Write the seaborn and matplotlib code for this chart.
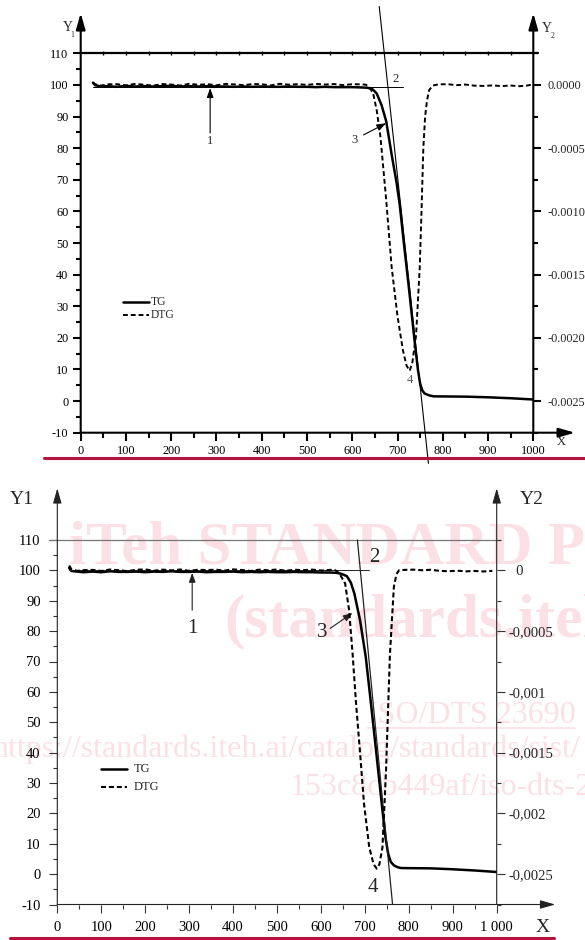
import numpy as np
import matplotlib
matplotlib.use("Agg")
import matplotlib.pyplot as plt
import seaborn as sns
from matplotlib.lines import Line2D
from matplotlib.patches import ArrowStyle
from matplotlib.ticker import MultipleLocator

# values read off the two TG / DTG plots
# X = temperature, Y1 = mass (%), Y2 = DTG

base_x = [80, 100, 120, 140, 160, 180, 200, 220, 240, 260, 280, 300, 320, 340,
          360, 380, 400, 420, 440, 460, 480, 500, 520, 540, 560, 580, 600, 620]

# upper plot
top_tg_x = [27, 32, 45, 60] + base_x + [
    634, 645, 654, 665, 675, 687, 698, 705, 714, 725, 737, 745, 750, 755,
    760, 770, 780, 850, 900, 950, 1000]
top_tg_y = [100.7, 99.9, 99.5, 99.6,
            99.4, 99.7, 99.5, 99.6, 99.5, 99.6, 99.7, 99.5, 99.6, 99.5, 99.6, 99.5, 99.5, 99.4,
            99.5, 99.4, 99.5, 99.4, 99.4, 99.5, 99.4, 99.4, 99.3, 99.4, 99.3, 99.3, 99.3, 99.2,
            99.1, 98.6, 97.3, 93.5, 88.5, 78, 69, 62, 50, 36, 20, 10, 5.5, 3.3,
            2.4, 1.8, 1.5, 1.4, 1.2, 0.9, 0.5]

top_dtg_x = [27, 32, 45, 60] + base_x + [
    630, 638, 646, 654, 662, 675, 687, 700, 712, 720, 727, 733, 741, 749,
    753, 757, 761, 765, 770, 778,
    790, 810, 830, 850, 870, 890, 910, 930, 950, 970, 985, 996]
top_dtg_y = [0.00002, 0.000005, -0.000005, 0.000005,
             0.000006, -0.000004, 0.000008, 0.000002, -0.000006, 0.000007, 0.000003,
             -0.000005, 0.000009, 0.000001, 0.000006, -0.000003, 0.000008, 0.000004,
             -0.000002, 0.000007, 0.000005, -0.000004, 0.000009, 0.000002, 0.000006,
             0.0, 0.000008, 0.000003, 0.000007, -0.000002, 0.000006, 0.000004,
             0.000002, -0.00002, -0.000065, -0.0002, -0.0004, -0.00091, -0.00144,
             -0.00183, -0.0021, -0.00222, -0.00226, -0.00219, -0.00198, -0.00145,
             -0.001, -0.0005, -0.00025, -0.000125, -0.00004, -0.000005,
             0.000004, 0.000006, -0.000002, 0.000003, -0.000006, -0.000008,
             -0.000004, -0.000009, -0.000005, -0.00001, -0.000006, 0.000002]

# lower plot
bot_tg_x = [27, 32, 45, 60] + base_x + [
    634, 646, 659, 668, 676, 689, 702, 714, 727, 740, 747, 753, 759, 766,
    774, 782, 850, 900, 950, 1000]
bot_tg_y = [100.8, 99.8, 99.6, 99.4,
            99.6, 99.4, 99.7, 99.5, 99.5, 99.6, 99.4, 99.6, 99.5, 99.7, 99.5, 99.5, 99.6, 99.4,
            99.5, 99.5, 99.6, 99.4, 99.5, 99.4, 99.5, 99.4, 99.4, 99.5, 99.4, 99.4, 99.3, 99.3,
            99.2, 98.9, 98.1, 96, 92.4, 83.6, 71.5, 56, 38.6, 21, 12, 6.7, 4, 2.9,
            2.3, 2.0, 1.9, 1.6, 1.2, 0.7]

bot_dtg_x = [27, 32, 45, 60] + base_x + [
    632, 642, 655, 664, 672, 680, 689, 698, 710, 720, 727, 733, 740, 748,
    757, 766, 772, 778,
    790, 810, 830, 850, 870, 890, 910, 930, 950, 970, 990]
bot_dtg_y = [0.00004, 0.00001, -0.000004, 0.000002,
             0.000004, -0.000005, 0.000007, 0.000001, -0.000006, 0.000005, 0.000008,
             -0.000003, 0.000006, 0.0, 0.000007, -0.000004, 0.000005, 0.000002,
             0.000006, -0.000002, 0.000008, 0.000003, -0.000005, 0.000006, 0.000001,
             0.000007, -0.000003, 0.000005, 0.000002, 0.000006, -0.000001, 0.000004,
             0.000003, -0.000025, -0.0001075, -0.000325, -0.000685, -0.0011, -0.0015,
             -0.00192, -0.00228, -0.00242, -0.002455, -0.00242, -0.00228, -0.00166,
             -0.00069, -0.000135, -0.00003, 0.000002,
             0.000004, 0.000006, 0.000001, 0.000005, -0.000004, -0.000007,
             -0.000003, -0.000008, -0.000005, -0.000009, -0.000004]

x_ticks = [0, 100, 200, 300, 400, 500, 600, 700, 800, 900, 1000]
top_x_labels = ['0', '100', '200', '300', '400', '500', '600', '700', '800', '900', '1000']
bot_x_labels = ['0', '100', '200', '300', '400', '500', '600', '700', '800', '900', '1 000']
y1_ticks = [-10, 0, 10, 20, 30, 40, 50, 60, 70, 80, 90, 100, 110]
y1_labels = ['-10', '0', '10', '20', '30', '40', '50', '60', '70', '80', '90', '100', '110']
y2_ticks = [-0.0025, -0.002, -0.0015, -0.001, -0.0005, 0.0]
top_y2_labels = ['-0.0025', '-0.0020', '-0.0015', '-0.0010', '-0.0005', '0.0000']
bot_y2_labels = ['-0,0025', '-0,002', '-0,0015', '-0,001', '-0,0005', '  0']

sns.set_style('ticks')
plt.rcParams['font.family'] = ['Liberation Serif', 'DejaVu Serif']

W, H = 585, 940
fig = plt.figure(figsize=(W / 100, H / 100), dpi=100)
fig.patch.set_facecolor('white')


def rect(x0, x1, ytop, ybot):
    return [x0 / W, 1 - ybot / H, (x1 - x0) / W, (ybot - ytop) / H]


def make_axes(r):
    ax = fig.add_axes(r)
    ax2 = ax.twinx()
    for a in (ax, ax2):
        a.set_facecolor('none')
        for s in a.spines.values():
            s.set_visible(False)
    return ax, ax2


def axis_arrow(ax, start, end, lw, color, ms):
    ax.annotate('', xy=end, xytext=start, xycoords='data', textcoords='data',
                arrowprops=dict(arrowstyle=ArrowStyle('-|>', head_length=0.7, head_width=0.2),
                                lw=lw, color=color, shrinkA=0, shrinkB=0,
                                mutation_scale=ms),
                annotation_clip=False)


def small_arrow(ax, start, end, color):
    ax.annotate('', xy=end, xytext=start,
                arrowprops=dict(arrowstyle=ArrowStyle('-|>', head_length=0.7, head_width=0.25),
                                lw=0.8, color=color, shrinkA=0, shrinkB=0, mutation_scale=8))


def setup_ticks(ax, ax2, xlabels, y2labels, size, lw, color, major, minor,
                padx, pady, pad2):
    ax.set_xlim(0, 1000)
    ax.set_ylim(-10, 110)
    ax2.set_ylim(-0.00275, 0.00025)
    ax.set_xticks(x_ticks, xlabels)
    ax.set_yticks(y1_ticks, y1_labels)
    ax2.set_yticks(y2_ticks, y2labels)
    ax.xaxis.set_minor_locator(MultipleLocator(50))
    ax.yaxis.set_minor_locator(MultipleLocator(5))
    ax2.yaxis.set_minor_locator(MultipleLocator(0.00025))
    ax.set_xlabel('')
    ax.set_ylabel('')
    ax2.set_ylabel('')
    ax.tick_params(which='both', direction='out', width=lw, color=color,
                   left=True, right=False, top=False, bottom=True,
                   labelsize=size, labelcolor='black')
    ax.tick_params(which='major', length=major)
    ax.tick_params(which='minor', length=minor)
    ax.tick_params(axis='x', pad=padx)
    ax.tick_params(axis='y', pad=pady)
    ax2.tick_params(which='both', direction='out', width=lw, color=color,
                    left=False, right=True, labelsize=size, pad=pad2)
    ax2.tick_params(which='major', length=major)
    ax2.tick_params(which='minor', length=minor)


# ---------------- upper plot ----------------
ax, ax2 = make_axes(rect(80.7, 533.3, 53.3, 432.7))

sns.lineplot(x=top_tg_x, y=top_tg_y, ax=ax, color='black', lw=1.8)
sns.lineplot(x=top_dtg_x, y=top_dtg_y, ax=ax2, color='black', lw=1.4,
             linestyle=(0, (2.5, 1.5)))
setup_ticks(ax, ax2, top_x_labels, top_y2_labels, 8.8, 1.5, 'black', 6, 3.5, 3, 2.8, 4)

axis_arrow(ax, (0, -10), (0, 122.7), 1.5, 'black', 14)
axis_arrow(ax, (1000, -10), (1000, 122.7), 1.5, 'black', 14)
axis_arrow(ax, (0, -10), (1092, -10), 1.5, 'black', 14)
ax.plot([0, 1010], [110, 110], color='black', lw=1.6, clip_on=False)
ax.plot(np.arange(50, 1000, 50), [110] * 19, ls='none', marker='|', ms=3.5,
        mew=1.0, color='black', clip_on=False)

# onset construction
ax.plot([27, 712], [99.3, 99.3], color='black', lw=0.7)
ax.plot([659.6, 768.3], [124.8, -19.7], color='black', lw=0.8, clip_on=False)

small_arrow(ax, (286, 84.8), (286, 99), 'black')
small_arrow(ax, (625, 84.2), (675, 87.9), 'black')
ax.text(286, 82.3, '1', ha='center', va='center', fontsize=9)
ax.text(695, 101.8, '2', ha='center', va='center', fontsize=9)
ax.text(605, 82.6, '3', ha='center', va='center', fontsize=9)
ax.text(727, 6.6, '4', ha='center', va='center', fontsize=9, color='#555555')

ax.text(-29, 118.3, 'Y', ha='center', va='center', fontsize=10, clip_on=False)
ax.text(-18.5, 115.8, '1', ha='center', va='center', fontsize=5.5, clip_on=False)
ax.text(1030, 117.8, 'Y', ha='center', va='center', fontsize=10, clip_on=False)
ax.text(1042, 115.4, '2', ha='center', va='center', fontsize=5.5, clip_on=False)
ax.text(1062, -12.8, 'X', ha='center', va='center', fontsize=9, clip_on=False)

ax.plot([94, 151], [31.4, 31.4], color='black', lw=1.8)
ax.plot([94, 151], [27.2, 27.2], color='black', lw=1.4, ls=(0, (2.5, 1.5)))
ax.text(155, 31.4, 'TG', va='center', fontsize=8.3)
ax.text(155, 27.2, 'DTG', va='center', fontsize=8.3)

fig.add_artist(Line2D([44 / W, 1.0], [1 - 458 / H] * 2, transform=fig.transFigure,
                      color='#b5123d', lw=2.2))

# ---------------- lower plot ----------------
bx, bx2 = make_axes(rect(57.3, 496.7, 540, 904.5))

sns.lineplot(x=bot_tg_x, y=bot_tg_y, ax=bx, color='black', lw=1.8)
sns.lineplot(x=bot_dtg_x, y=bot_dtg_y, ax=bx2, color='black', lw=1.5,
             linestyle=(0, (2.4, 1.4)))
setup_ticks(bx, bx2, bot_x_labels, bot_y2_labels, 10.5, 0.8, '#333333', 5.8, 2.9,
            5.8, 6.2, 3)

axis_arrow(bx, (0, -10), (0, 127), 0.8, '#222222', 13)
axis_arrow(bx, (1000, -10), (1000, 127), 0.8, '#222222', 13)
axis_arrow(bx, (0, -10), (1133, -10), 0.8, '#222222', 13)
bx.plot([-18, 1007], [110, 110], color='#777777', lw=0.9, clip_on=False)

bx.plot([27, 710], [100, 100], color='#222222', lw=0.7)
bx.plot([683, 763], [110, -10], color='#222222', lw=0.9, clip_on=False)

small_arrow(bx, (307, 86.9), (307, 99.2), '#222222')
small_arrow(bx, (621, 80.9), (672, 86), '#222222')
bx.text(307, 80.9, '1', ha='center', va='center', fontsize=15)
bx.text(721, 104.3, '2', ha='center', va='center', fontsize=15)
bx.text(603, 79.5, '3', ha='center', va='center', fontsize=15)
bx.text(718.6, -4.3, '4', ha='center', va='center', fontsize=15)

bx.text(-81, 123.4, 'Y1', ha='center', va='center', fontsize=14, clip_on=False)
bx.text(1079.6, 123.4, 'Y2', ha='center', va='center', fontsize=14, clip_on=False)
bx.text(1104.7, -17.6, 'X', ha='center', va='center', fontsize=14, clip_on=False)

bx.plot([98.8, 158.4], [34.5, 34.5], color='black', lw=1.8)
bx.plot([98.8, 158.4], [28.7, 28.7], color='black', lw=1.5, ls=(0, (2.4, 1.4)))
bx.text(173.6, 34.5, 'TG', va='center', fontsize=9)
bx.text(173.6, 28.7, 'DTG', va='center', fontsize=9)

fig.add_artist(Line2D([10 / W, 554 / W], [1 - 938 / H] * 2, transform=fig.transFigure,
                      color='#b5123d', lw=2.2))

# faint watermark of the source document
pink = '#fbe0e6'
fig.text(69 / W, 1 - 564 / H, 'iTeh STANDARD PREVIEW', fontsize=44, fontweight='bold',
         color=pink, zorder=-1)
fig.text(224 / W, 1 - 637 / H, '(standards.iteh.ai)', fontsize=44, fontweight='bold',
         color=pink, zorder=-1)
fig.text(367 / W, 1 - 723 / H, 'ISO/DTS 23690', fontsize=23, color=pink, zorder=-1)
fig.add_artist(Line2D([367 / W, 575 / W], [1 - 728 / H] * 2, transform=fig.transFigure,
                      color=pink, lw=1.2, zorder=-1))
fig.text(-7 / W, 1 - 757 / H, 'https://standards.iteh.ai/catalog/standards/sist/',
         fontsize=23, color=pink, zorder=-1)
fig.text(289 / W, 1 - 795 / H, '153c8cb449af/iso-dts-23690', fontsize=23, color=pink,
         zorder=-1)

fig.savefig('out.png', dpi=100)
